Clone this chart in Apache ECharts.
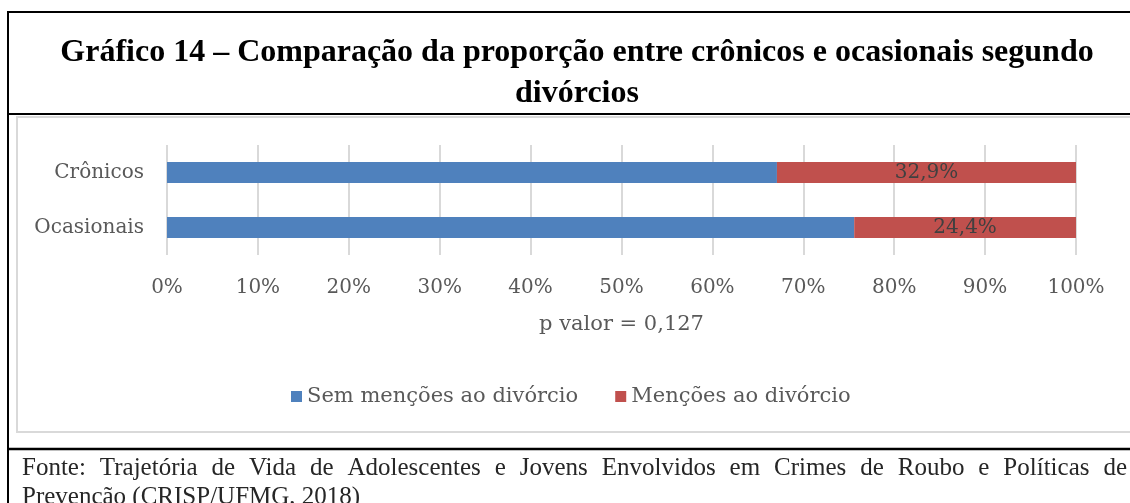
<!DOCTYPE html>
<html>
<head>
<meta charset="utf-8">
<script src="https://cdn.jsdelivr.net/npm/echarts@6/dist/echarts.min.js"></script>
<style>
html,body{margin:0;padding:0;background:#fff;}
#chart{width:1130px;height:503px;}
</style>
</head>
<body>
<div id="chart"></div>
<script>
// ---- data ----
var categories = ['Crônicos', 'Ocasionais'];
var seriesNames = ['Sem menções ao divórcio', 'Menções ao divórcio'];
var semMencoes = [67.1, 75.6];
var mencoes = [32.9, 24.4];
var xTicks = [0, 10, 20, 30, 40, 50, 60, 70, 80, 90, 100];
var titleLines = ['Gráfico 14 – Comparação da proporção entre crônicos e ocasionais segundo', 'divórcios'];
var axisName = 'p valor = 0,127';
var sourceLine1 = 'Fonte: Trajetória de Vida de Adolescentes e Jovens Envolvidos em Crimes de Roubo e Políticas de';
var sourceLine2 = 'Prevenção (CRISP/UFMG, 2018)';

var serif = '"DejaVu Serif", serif';

// justified footer line built from words
function justify(text, font, x0, x1, y) {
  var c = document.createElement('canvas').getContext('2d');
  c.font = font;
  var words = text.split(' ');
  var widths = words.map(function (w) { return c.measureText(w).width; });
  var total = widths.reduce(function (a, b) { return a + b; }, 0);
  var gap = (x1 - x0 - total) / (words.length - 1);
  var out = [];
  var x = x0;
  words.forEach(function (w, i) {
    out.push({ type: 'text', left: x, top: y, style: { text: w, font: font, fill: '#262626' } });
    x += widths[i] + gap;
  });
  return out;
}

var footFont = '25px "Liberation Serif"';
var titleFont = 'bold 32px "Liberation Serif"';
var graphics = [
  { type: 'rect', shape: { x: 8, y: 12, width: 1200, height: 600 }, style: { fill: 'none', stroke: '#000', lineWidth: 2 }, z: 0 },
  { type: 'line', shape: { x1: 8, y1: 114, x2: 1200, y2: 114 }, style: { stroke: '#000', lineWidth: 2 } },
  { type: 'rect', shape: { x: 17, y: 117, width: 1200, height: 315 }, style: { fill: 'none', stroke: '#d9d9d9', lineWidth: 2 } },
  { type: 'line', shape: { x1: 8, y1: 449, x2: 1200, y2: 449 }, style: { stroke: '#000', lineWidth: 2.5 } },
  { type: 'text', x: 577, y: 53, style: { text: titleLines[0], font: titleFont, fill: '#000', textAlign: 'center', textVerticalAlign: 'middle' } },
  { type: 'text', x: 577, y: 94, style: { text: titleLines[1], font: titleFont, fill: '#000', textAlign: 'center', textVerticalAlign: 'middle' } },
  { type: 'text', left: 22, top: 485, style: { text: sourceLine2, font: footFont, fill: '#262626' } }
].concat(justify(sourceLine1, footFont, 22, 1127, 456));

var chart = echarts.init(document.getElementById('chart'));
chart.setOption({
  animation: false,
  backgroundColor: '#fff',
  graphic: graphics,
  legend: {
    data: seriesNames,
    left: 286,
    top: 381,
    itemWidth: 11,
    itemHeight: 11,
    itemGap: 37,
    icon: 'rect',
    textStyle: { fontFamily: serif, fontSize: 21, color: '#595959' }
  },
  grid: { left: 167, right: 54, top: 145, height: 110, containLabel: false },
  xAxis: {
    type: 'value',
    min: xTicks[0],
    max: xTicks[xTicks.length - 1],
    interval: 10,
    name: axisName,
    nameLocation: 'middle',
    nameGap: 59,
    nameTextStyle: { fontFamily: serif, fontSize: 21, color: '#595959' },
    axisLine: { show: false },
    axisTick: { show: false },
    axisLabel: { margin: 23, fontFamily: serif, fontSize: 20, color: '#595959', formatter: '{value}%' },
    splitLine: { lineStyle: { color: '#d9d9d9', width: 2 } }
  },
  yAxis: {
    type: 'category',
    data: categories,
    inverse: true,
    axisLine: { show: false },
    axisTick: { show: false },
    axisLabel: { margin: 23, fontFamily: serif, fontSize: 20, color: '#595959' }
  },
  series: [
    {
      name: seriesNames[0], type: 'bar', stack: 'total', barWidth: 21,
      itemStyle: { color: '#4f81bd' },
      data: semMencoes
    },
    {
      name: seriesNames[1], type: 'bar', stack: 'total', barWidth: 21,
      itemStyle: { color: '#c0504d' },
      label: {
        show: true, position: 'inside', fontFamily: serif, fontSize: 20, color: '#404040',
        formatter: function (p) { return p.value.toFixed(1).replace('.', ',') + '%'; }
      },
      data: mencoes
    }
  ]
});
</script>
</body>
</html>
